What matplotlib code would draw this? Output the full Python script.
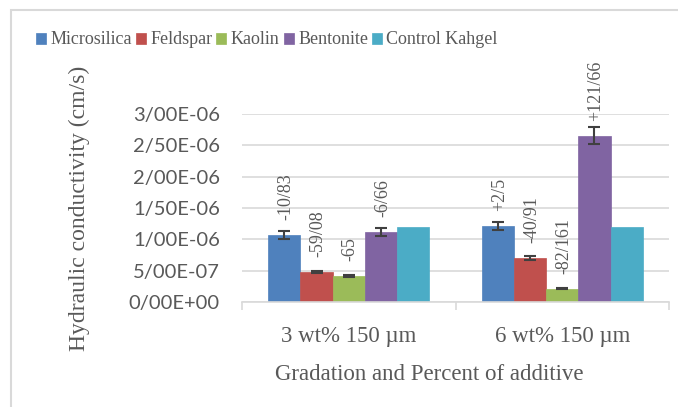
import numpy as np
import matplotlib
matplotlib.use("Agg")
import matplotlib.pyplot as plt
from matplotlib.ticker import FuncFormatter, FixedLocator
from matplotlib.patches import Rectangle

# data (cm/s)
groups = ["3 wt% 150 \u00b5m", "6 wt% 150 \u00b5m"]
series = ["Microsilica", "Feldspar", "Kaolin", "Bentonite", "Control Kahgel"]
colors = ["#4F81BD", "#C0504D", "#9BBB59", "#8064A2", "#4BACC6"]
microsilica = [1.07e-6, 1.21e-6]
feldspar = [0.48e-6, 0.70e-6]
kaolin = [0.415e-6, 0.21e-6]
bentonite = [1.12e-6, 2.65e-6]
control = [1.20e-6, 1.19e-6]
err_microsilica = [0.064e-6, 0.06e-6]
err_feldspar = [0.02e-6, 0.03e-6]
err_kaolin = [0.02e-6, 0.01e-6]
err_bentonite = [0.06e-6, 0.135e-6]
lab_microsilica = ["-10/83", "+2/5"]
lab_feldspar = ["-59/08", "-40/91"]
lab_kaolin = ["-65", "-82/161"]
lab_bentonite = ["-6/66", "+121/66"]

values = [microsilica, feldspar, kaolin, bentonite, control]
errors = [err_microsilica, err_feldspar, err_kaolin, err_bentonite, None]
labels = [lab_microsilica, lab_feldspar, lab_kaolin, lab_bentonite, None]

serif = ["Liberation Serif", "DejaVu Serif"]
plt.rcParams["font.family"] = serif
sans = "Lato"
txt = "#595959"

fig = plt.figure(figsize=(6.78, 4.07), dpi=100)
ax = fig.add_axes([242 / 678, 1 - 302 / 407, 427 / 678, 188 / 407])

# chart frame (only left and top edges fall inside the picture)
fig.patches.append(Rectangle((11 / 678, -0.1), 1.2, 1 - 10 / 407 + 0.1,
                             transform=fig.transFigure, fill=False,
                             edgecolor="#D9D9D9", linewidth=1.5))

x = np.arange(len(groups))
w = 0.151
for i, (name, vals) in enumerate(zip(series, values)):
    pos = x + (i - 2) * w
    ax.bar(pos, vals, w, color=colors[i], label=name, zorder=2,
           edgecolor=colors[i], linewidth=0.5)
    if errors[i] is not None:
        ax.errorbar(pos, vals, yerr=errors[i], fmt="none", ecolor="#404040",
                    elinewidth=1.5, capsize=4, capthick=1.5, zorder=3)
    if labels[i] is not None:
        for p, v, s in zip(pos, vals, labels[i]):
            ax.annotate(s, (p, v), xytext=(1, 11), textcoords="offset points",
                        rotation=90, ha="center", va="bottom",
                        fontsize=13, color=txt, annotation_clip=False)

ax.set_xlim(-0.5, 1.5)
ax.set_ylim(0, 3e-6)
ax.set_yticks(np.arange(0, 3.01e-6, 0.5e-6))
ax.yaxis.set_major_formatter(FuncFormatter(lambda v, p: f"{v:.2E}".replace(".", "/")))
ax.grid(axis="y", color="#D9D9D9", linewidth=1.2, zorder=0)
ax.set_axisbelow(True)
for s in ["top", "right", "left"]:
    ax.spines[s].set_visible(False)
ax.spines["bottom"].set_color("#D9D9D9")
ax.spines["bottom"].set_linewidth(1.2)

ax.set_xticks(x)
ax.set_xticklabels(groups, fontsize=16.5, color=txt)
ax.xaxis.set_minor_locator(FixedLocator([-0.5, 0.5, 1.5]))
ax.tick_params(axis="x", which="major", length=0, pad=17)
ax.tick_params(axis="x", which="minor", length=6, color="#D9D9D9", width=1.2)
ax.tick_params(axis="y", length=0, pad=16, labelsize=14.5, labelcolor=txt)
for t in ax.get_yticklabels():
    t.set_family(sans)

fig.text(429 / 678, 1 - 374 / 407, "Gradation and Percent of additive",
         ha="center", va="center", fontsize=16.5, color=txt)
fig.text(79 / 678, 1 - 208 / 407, "Hydraulic conductivity (cm/s)", rotation=90,
         ha="center", va="center", fontsize=17, color=txt)

leg = fig.legend(loc="center left", bbox_to_anchor=(36 / 678, 1 - 40 / 407), ncol=5,
                 frameon=False, borderpad=0, borderaxespad=0,
                 handlelength=0.55, handleheight=0.55,
                 handletextpad=0.25, columnspacing=0.22, fontsize=13)
for t in leg.get_texts():
    t.set_color(txt)
    t.set_family(serif)

plt.savefig("out.png", dpi=100)
